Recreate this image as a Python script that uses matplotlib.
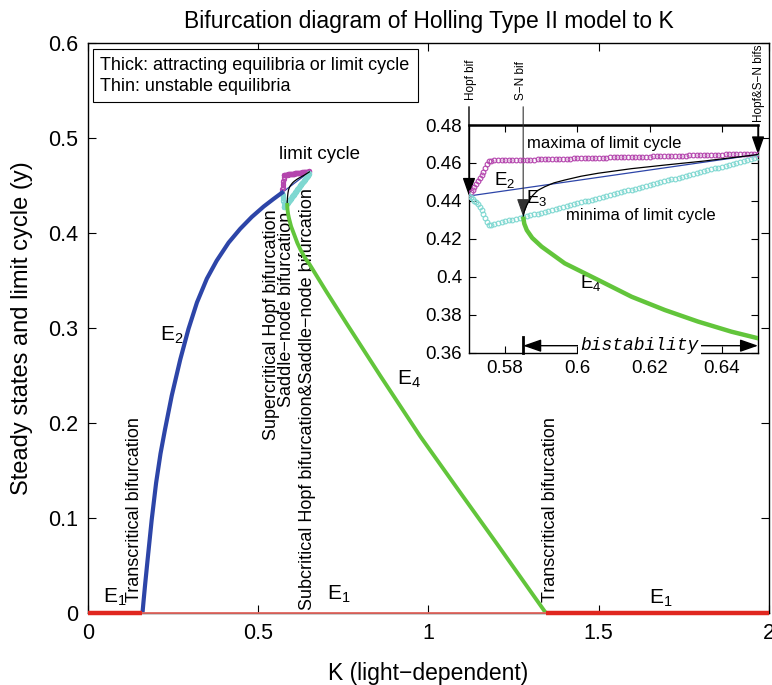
import matplotlib
matplotlib.use('Agg')
import matplotlib.pyplot as plt
from matplotlib.patches import Rectangle

plt.rcParams['font.family'] = ['Liberation Sans', 'DejaVu Sans']
plt.rcParams['mathtext.fontset'] = 'custom'
plt.rcParams['mathtext.rm'] = 'Liberation Sans'
plt.rcParams['mathtext.it'] = 'Liberation Sans:italic'
plt.rcParams['mathtext.bf'] = 'Liberation Sans:bold'

# ---------------- data ----------------
E1_left_K = [0.0, 0.16]
E1_mid_K = [0.16, 1.345]
E1_right_K = [1.345, 2.0]
E1_y = [0.0, 0.0]

E2_stable_K = [0.160, 0.163, 0.168, 0.175, 0.187, 0.200, 0.213, 0.226, 0.246,
               0.271, 0.295, 0.320, 0.349, 0.378, 0.413, 0.447, 0.481, 0.516,
               0.545, 0.570]
E2_stable_y = [0.000, 0.012, 0.031, 0.056, 0.098, 0.137, 0.168, 0.193, 0.229,
               0.267, 0.299, 0.327, 0.352, 0.371, 0.390, 0.4045, 0.417, 0.428,
               0.436, 0.4426]
E2_unstable_K = [0.57, 0.65]
E2_unstable_y = [0.4426, 0.4645]

E3_K = [0.585, 0.5853, 0.586, 0.5873, 0.589, 0.591, 0.5935, 0.5965, 0.601,
        0.6058, 0.615, 0.6242, 0.635, 0.6491, 0.65]
E3_y = [0.4317, 0.4345, 0.4378, 0.4422, 0.4455, 0.4475, 0.4495, 0.4510, 0.4530,
        0.4546, 0.4570, 0.4589, 0.4610, 0.4642, 0.4645]

E4_K = [0.585, 0.5853, 0.586, 0.5875, 0.5901, 0.5965, 0.6058, 0.615, 0.6242,
        0.6334, 0.6426, 0.65, 0.70, 0.761, 0.86, 0.976, 1.10, 1.20, 1.345]
E4_y = [0.4317, 0.428, 0.4246, 0.4205, 0.4159, 0.4071, 0.3983, 0.3895, 0.3825,
        0.3764, 0.3711, 0.3676, 0.3385, 0.304, 0.249, 0.186, 0.1235, 0.0735, 0.0]

lc_K = [0.5700, 0.5705, 0.5710, 0.5715, 0.5720, 0.5725, 0.5730, 0.5735, 0.5740,
        0.5745, 0.5750, 0.5755,
        0.576, 0.577, 0.578, 0.579, 0.580, 0.581, 0.582, 0.583, 0.584, 0.585,
        0.586, 0.587, 0.588, 0.589, 0.590, 0.591, 0.592, 0.593, 0.594, 0.595,
        0.596, 0.597, 0.598, 0.599, 0.600, 0.601, 0.602, 0.603, 0.604, 0.605,
        0.606, 0.607, 0.608, 0.609, 0.610, 0.611, 0.612, 0.613, 0.614, 0.615,
        0.616, 0.617, 0.618, 0.619, 0.620, 0.621, 0.622, 0.623, 0.624, 0.625,
        0.626, 0.627, 0.628, 0.629, 0.630, 0.631, 0.632, 0.633, 0.634, 0.635,
        0.636, 0.637, 0.638, 0.639, 0.640, 0.641, 0.642, 0.643, 0.644, 0.645,
        0.646, 0.647, 0.648, 0.649, 0.650]
lc_max = [0.4426, 0.4445, 0.4460, 0.4475, 0.4490, 0.4505, 0.4520, 0.4535, 0.4553,
          0.4572, 0.4595, 0.4610,
          0.4612, 0.4613, 0.4613, 0.4614, 0.4614, 0.4615, 0.4615, 0.4616, 0.4616, 0.4617,
          0.4617, 0.4618, 0.4618, 0.4619, 0.4619, 0.4620, 0.4620, 0.4621, 0.4621, 0.4622,
          0.4622, 0.4623, 0.4623, 0.4624, 0.4624, 0.4625, 0.4625, 0.4626, 0.4626, 0.4627,
          0.4627, 0.4628, 0.4628, 0.4629, 0.4629, 0.4630, 0.4630, 0.4631, 0.4631, 0.4632,
          0.4632, 0.4633, 0.4633, 0.4634, 0.4634, 0.4635, 0.4635, 0.4636, 0.4636, 0.4637,
          0.4637, 0.4638, 0.4638, 0.4639, 0.4639, 0.4640, 0.4640, 0.4641, 0.4641, 0.4642,
          0.4642, 0.4643, 0.4643, 0.4644, 0.4644, 0.4645, 0.4645, 0.4646, 0.4646, 0.4647,
          0.4647, 0.4648, 0.4648, 0.4649, 0.4649]
lc_min = [0.4426, 0.4418, 0.4410, 0.4402, 0.4393, 0.4382, 0.4368, 0.4352, 0.4333,
          0.4312, 0.4290, 0.4272,
          0.4274, 0.4279, 0.4283, 0.4288, 0.4292, 0.4297, 0.4301, 0.4305, 0.4310, 0.4314,
          0.4319, 0.4324, 0.4329, 0.4333, 0.4338, 0.4343, 0.4348, 0.4353, 0.4358, 0.4363,
          0.4367, 0.4372, 0.4377, 0.4382, 0.4387, 0.4392, 0.4397, 0.4401, 0.4406, 0.4411,
          0.4416, 0.4421, 0.4426, 0.4431, 0.4435, 0.4440, 0.4445, 0.4450, 0.4455, 0.4460,
          0.4465, 0.4469, 0.4474, 0.4479, 0.4484, 0.4489, 0.4494, 0.4499, 0.4503, 0.4508,
          0.4513, 0.4518, 0.4523, 0.4528, 0.4533, 0.4537, 0.4542, 0.4547, 0.4552, 0.4557,
          0.4562, 0.4566, 0.4571, 0.4576, 0.4581, 0.4586, 0.4591, 0.4596, 0.4600, 0.4605,
          0.4610, 0.4615, 0.4620, 0.4625, 0.4630]

main_xticks = [0, 0.5, 1, 1.5, 2]
main_xticklabels = ['0', '0.5', '1', '1.5', '2']
main_yticks = [0, 0.1, 0.2, 0.3, 0.4, 0.5, 0.6]
main_yticklabels = ['0', '0.1', '0.2', '0.3', '0.4', '0.5', '0.6']
inset_xticks = [0.58, 0.6, 0.62, 0.64]
inset_xticklabels = ['0.58', '0.6', '0.62', '0.64']
inset_yticks = [0.36, 0.38, 0.4, 0.42, 0.44, 0.46, 0.48]
inset_yticklabels = ['0.36', '0.38', '0.4', '0.42', '0.44', '0.46', '0.48']

hopf_K, hopf_y = 0.57, 0.4426
sn_K, sn_y = 0.585, 0.4317
hsn_K, hsn_y = 0.65, 0.4645

# ---------------- style ----------------
RED = '#e0271f'
RED_THIN = '#e66a62'
BLUE = '#2d45a8'
GREEN = '#62c53b'
MAG = '#b445ad'
CYAN = '#7fd8d1'

fig = plt.figure(figsize=(7.72, 6.85), dpi=100)
ax = fig.add_axes([0.114, 0.105, 0.882, 0.832])

def draw_branches(a, thick=3.0, ms=3.3):
    a.plot(E2_unstable_K, E2_unstable_y, color=BLUE, lw=0.9, zorder=3)
    a.plot(lc_K, lc_max, ls='none', marker='o', ms=ms, mfc='none',
           mec=MAG, mew=0.8, zorder=4)
    a.plot(lc_K, lc_min, ls='none', marker='o', ms=ms, mfc='none',
           mec=CYAN, mew=0.8, zorder=4)
    a.plot(E3_K, E3_y, color='black', lw=0.9, zorder=5)
    a.plot(E4_K, E4_y, color=GREEN, lw=thick, zorder=5, solid_capstyle='butt')

# main plot
ax.plot(E2_stable_K, E2_stable_y, color=BLUE, lw=3.0, zorder=5)
draw_branches(ax, thick=2.8, ms=3.0)
ax.plot(E1_mid_K, E1_y, color=RED_THIN, lw=1.3, zorder=6, clip_on=False)
ax.plot(E1_left_K, E1_y, color=RED, lw=3.2, zorder=6, clip_on=False,
        solid_capstyle='butt')
ax.plot(E1_right_K, E1_y, color=RED, lw=3.2, zorder=6, clip_on=False,
        solid_capstyle='butt')

ax.set_xlim(0, 2)
ax.set_ylim(0, 0.6)
ax.set_xticks(main_xticks)
ax.set_xticklabels(main_xticklabels)
ax.set_yticks(main_yticks)
ax.set_yticklabels(main_yticklabels)
ax.tick_params(direction='in', top=True, right=True, length=6, width=0.8,
               labelsize=15.5, pad=7)
for s in ax.spines.values():
    s.set_linewidth(1.0)

ax.set_title('Bifurcation diagram of Holling Type II model to K',
             fontsize=16.5, pad=11)
ax.set_xlabel('K (light\u2212dependent)', fontsize=16.5, labelpad=13)
ax.set_ylabel('Steady states and limit cycle (y)', fontsize=17, labelpad=11)

# legend-like box
ax.add_patch(Rectangle((0.007, 0.8965), 0.4776, 0.093, transform=ax.transAxes,
                       fc='white', ec='black', lw=0.8, zorder=7))
ax.text(0.0176, 0.9614, 'Thick: attracting equilibria or limit cycle',
        transform=ax.transAxes, fontsize=13, va='center', ha='left', zorder=8)
ax.text(0.0176, 0.9246, 'Thin: unstable equilibria',
        transform=ax.transAxes, fontsize=13, va='center', ha='left', zorder=8)

# annotations in main plot
tk = dict(rotation=90, fontsize=13, ha='center', va='bottom')
ax.text(0.138, 0.012, 'Transcritical bifurcation', **tk)
ax.text(1.359, 0.012, 'Transcritical bifurcation', **tk)
ax.text(0.539, 0.182, 'Supercritical Hopf bifurcation', **tk)
ax.text(0.584, 0.217, 'Saddle\u2212node bifurcation', **tk)
ax.text(0.645, 0.003, 'Subcritical Hopf bifurcation&Saddle\u2212node bifurcation', **tk)
ax.text(0.044, 0.011, 'E$_1$', fontsize=15, ha='left', va='baseline')
ax.text(0.703, 0.014, 'E$_1$', fontsize=15, ha='left', va='baseline')
ax.text(1.647, 0.010, 'E$_1$', fontsize=15, ha='left', va='baseline')
ax.text(0.21, 0.287, 'E$_2$', fontsize=15, ha='left', va='baseline')
ax.text(0.908, 0.240, 'E$_4$', fontsize=15, ha='left', va='baseline')
ax.text(0.679, 0.4776, 'limit cycle', fontsize=13.5, ha='center', va='baseline')

# ---------------- inset ----------------
ai = fig.add_axes([0.6075, 0.4851, 0.3744, 0.3324])
draw_branches(ai, thick=3.2, ms=3.4)
ai.set_xlim(0.57, 0.65)
ai.set_ylim(0.36, 0.48)
ai.set_xticks(inset_xticks)
ai.set_xticklabels(inset_xticklabels)
ai.set_yticks(inset_yticks)
ai.set_yticklabels(inset_yticklabels)
ai.tick_params(direction='in', top=True, right=True, length=5, width=0.8,
               labelsize=13.5, pad=5)
for s in ai.spines.values():
    s.set_linewidth(1.0)
ai.spines['top'].set_linewidth(1.8)

ai.text(0.6073, 0.4677, 'maxima of limit cycle', fontsize=12, ha='center',
        va='baseline')
ai.text(0.6175, 0.4300, 'minima of limit cycle', fontsize=12, ha='center',
        va='baseline')
ai.text(0.5770, 0.4484, 'E$_2$', fontsize=13.5, ha='left', va='baseline')
ai.text(0.5857, 0.4387, 'E$_3$', fontsize=13.5, ha='left', va='baseline')
ai.text(0.6007, 0.3940, 'E$_4$', fontsize=13.5, ha='left', va='baseline')

arr = dict(arrowstyle='-|>,head_length=1.0,head_width=0.35', color='black',
           lw=1.0, shrinkA=0, shrinkB=0, mutation_scale=11)
ai.annotate('', xy=(hopf_K, hopf_y), xytext=(hopf_K, 0.4896),
            arrowprops=arr, annotation_clip=False)
ai.annotate('', xy=(sn_K, sn_y), xytext=(sn_K, 0.4896),
            arrowprops=dict(arr, lw=0.8, color='#333333'), annotation_clip=False)
ai.annotate('', xy=(hsn_K, hsn_y), xytext=(hsn_K, 0.4800),
            arrowprops=arr, annotation_clip=False)
sk = dict(rotation=90, fontsize=8.5, ha='center', va='bottom', clip_on=False)
ai.text(0.5705, 0.4932, 'Hopf bif', **sk)
ai.text(0.5844, 0.4932, 'S\u2212N bif', **sk)
ai.text(0.6503, 0.4816, 'Hopf&S\u2212N bifs', **sk)

# bistability
ai.plot([sn_K, sn_K], [0.36, 0.3684], color='black', lw=2.0, clip_on=False)
ai.annotate('', xy=(sn_K, 0.3637), xytext=(hsn_K, 0.3637),
            arrowprops=dict(arrowstyle='<|-|>,head_length=1.0,head_width=0.35',
                            color='black', lw=1.0, shrinkA=0, shrinkB=0,
                            mutation_scale=11), annotation_clip=False)
ai.text(0.6172, 0.3637, 'bistability', family=['Liberation Mono', 'DejaVu Sans Mono'],
        style='italic', fontsize=13, ha='center', va='center',
        bbox=dict(fc='white', ec='none', pad=1.5))

fig.savefig('out.png', dpi=100)
